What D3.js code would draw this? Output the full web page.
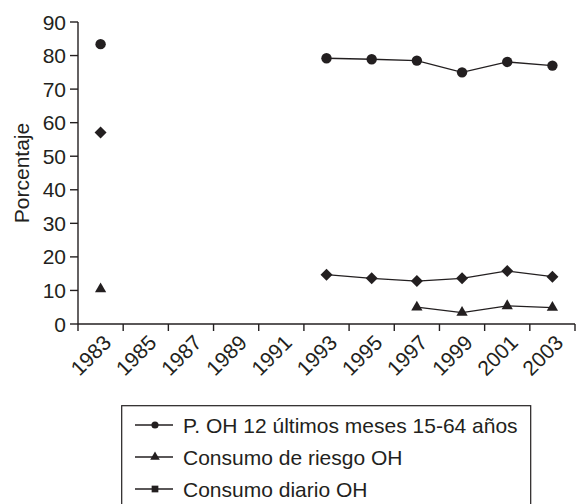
<!DOCTYPE html>
<html><head><meta charset="utf-8">
<script src="https://cdn.jsdelivr.net/npm/d3@7"></script>
<style>
html,body{margin:0;padding:0;background:#fff;}
text{font-family:"Liberation Sans",Arial,sans-serif;fill:#231f20;}
</style></head>
<body><svg id="c" width="576" height="504"></svg>
<script>
const years = ["1983","1985","1987","1989","1991","1993","1995","1997","1999","2001","2003"];
const prevalencia = [83.4,null,null,null,null,79.2,78.9,78.5,75.0,78.1,77.0];
const riesgo = [10.4,null,null,null,null,null,null,5.0,3.4,5.4,4.9];
const diario = [57.1,null,null,null,null,14.7,13.6,12.8,13.6,15.8,14.1];
const yTicks = [0,10,20,30,40,50,60,70,80,90];
const legendLabels = ["P. OH 12 últimos meses 15-64 años","Consumo de riesgo OH","Consumo diario OH"];
const yTitle = "Porcentaje";

const ink = "#231f20";
const fs = 21;
const svg = d3.select("#c");
const x = d3.scaleBand().domain(years).range([78,575]).padding(0);
const y = d3.scaleLinear().domain([0,90]).range([324,22]);

// y axis
const g = svg.append("g");
g.append("line").attr("x1",78).attr("x2",78).attr("y1",y(90)).attr("y2",y(0)).attr("stroke",ink).attr("stroke-width",1.4);
yTicks.forEach(t=>{
  g.append("line").attr("x1",70).attr("x2",78).attr("y1",y(t)).attr("y2",y(t)).attr("stroke",ink).attr("stroke-width",1.4);
  g.append("text").attr("x",66).attr("y",y(t)).attr("dy","0.36em").attr("text-anchor","end").attr("font-size",fs).text(t);
});
g.append("text").attr("transform",`translate(28.5,${(y(0)+y(90))/2}) rotate(-90)`).attr("text-anchor","middle").attr("font-size",fs).text(yTitle);

// x axis
g.append("line").attr("x1",78).attr("x2",575).attr("y1",y(0)).attr("y2",y(0)).attr("stroke",ink).attr("stroke-width",1.4);
const tickPos = years.map(d=>x(d)).concat([x.range()[1]]);
tickPos.forEach(p=>{
  g.append("line").attr("x1",p).attr("x2",p).attr("y1",y(0)).attr("y2",y(0)+7).attr("stroke",ink).attr("stroke-width",1.4);
});
years.forEach(d=>{
  const px = x(d)+x.bandwidth()/2 + 12;
  g.append("text").attr("transform",`translate(${px},344) rotate(-45)`).attr("text-anchor","end").attr("font-size",fs).text(d);
});

const cx = (d)=> x(d)+x.bandwidth()/2;
function series(vals, symbol, size, rot){
  const pts = years.map((d,i)=>({d, v: vals[i]}));
  const line = d3.line().defined(p=>p.v!==null).x(p=>cx(p.d)).y(p=>y(p.v));
  svg.append("path").attr("d",line(pts)).attr("fill","none").attr("stroke",ink).attr("stroke-width",1.3);
  svg.selectAll(null).data(pts.filter(p=>p.v!==null)).enter().append("path")
    .attr("d",d3.symbol().type(symbol).size(size))
    .attr("transform",p=>`translate(${cx(p.d)},${y(p.v)}) rotate(${rot||0})`).attr("fill",ink);
}
series(prevalencia, d3.symbolCircle, 85);
series(diario, d3.symbolSquare, 72, 45);
series(riesgo, d3.symbolTriangle, 55);

// legend
const lg = svg.append("g");
lg.append("rect").attr("x",121.7).attr("y",405.7).attr("width",409).attr("height",110).attr("fill","none").attr("stroke",ink).attr("stroke-width",1.2);
const legSyms = [d3.symbolCircle, d3.symbolTriangle, d3.symbolSquare];
const legSizes = [40, 40, 45];
legendLabels.forEach((l,i)=>{
  const yy = 425 + i*32;
  lg.append("line").attr("x1",135).attr("x2",173).attr("y1",yy).attr("y2",yy).attr("stroke",ink).attr("stroke-width",1.3);
  lg.append("path").attr("d",d3.symbol().type(legSyms[i]).size(legSizes[i])).attr("transform",`translate(155,${yy})`).attr("fill",ink);
  lg.append("text").attr("x",183).attr("y",yy).attr("dy","0.36em").attr("font-size",fs).text(l);
});
</script></body></html>
